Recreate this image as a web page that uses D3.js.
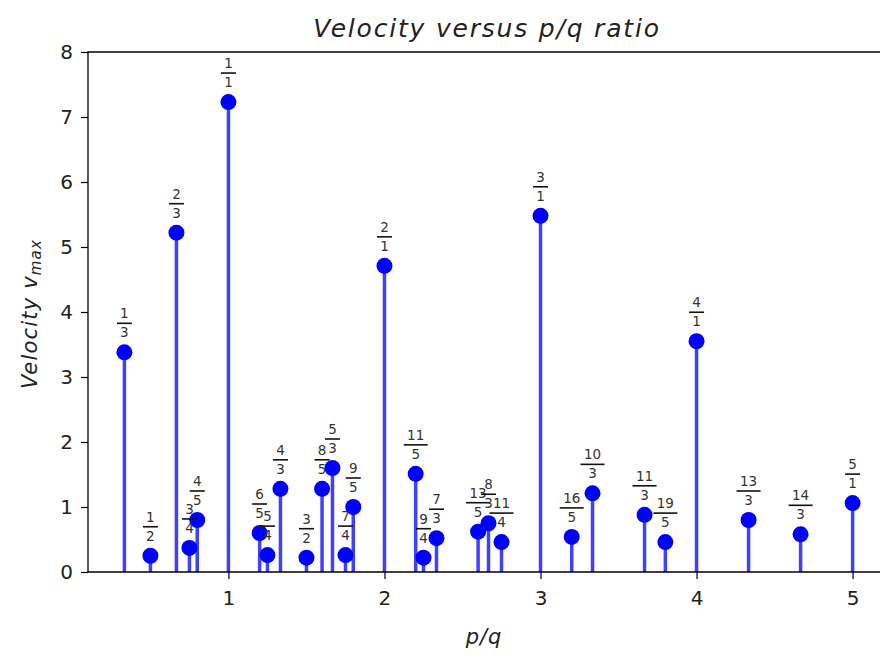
<!DOCTYPE html>
<html lang="en">
<head>
  <meta charset="UTF-8">
  <title>Velocity versus p/q ratio</title>
  <style>
    body, html {
      margin: 0;
      padding: 0;
      background: #fff;
    }
    svg text {
      font-family: "DejaVu Sans", sans-serif;
    }
  </style>
</head>
<body>
  <svg id="svg" width="880" height="656"></svg>
  <script src="https://d3js.org/d3.v7.min.js"></script>
  <script>
    // numerators, denominators and peak velocity for each ratio
    const numerators   = [1, 1, 2, 3, 4, 1, 6, 5, 4, 3, 8, 5, 7, 9, 2, 11, 9, 7, 13, 8, 11, 3, 16, 10, 11, 19, 4, 13, 14, 5]
    const denominators = [3, 2, 3, 4, 5, 1, 5, 4, 3, 2, 5, 3, 4, 5, 1, 5, 4, 3, 5, 3, 4, 1, 5, 3, 3, 5, 1, 3, 3, 1]
    const velocities   = [3.38, 0.25, 5.22, 0.37, 0.80, 7.23, 0.60, 0.26, 1.28, 0.22, 1.28, 1.60, 0.26, 1.00, 4.71,
                          1.51, 0.22, 0.52, 0.62, 0.75, 0.46, 5.48, 0.54, 1.21, 0.88, 0.46, 3.55, 0.80, 0.58, 1.06]
    const xTicks = [1, 2, 3, 4, 5]
    const yTicks = [0, 1, 2, 3, 4, 5, 6, 7, 8]

    const width = 880
    const height = 656
    const margin = {top: 52, left: 88, bottom: 84}

    const data = numerators.map((p, i) => ({
      p: p,
      q: denominators[i],
      ratio: p / denominators[i],
      v: velocities[i]
    }))

    const x = d3.scaleLinear()
      .domain([0.1, 5.2333])
      .range([margin.left, 889])

    const y = d3.scaleLinear()
      .domain([0, 8])
      .range([height - margin.bottom, margin.top])

    const svg = d3.select("#svg")

    // stems
    svg.append('g')
      .selectAll('line')
      .data(data)
      .enter()
      .append('line')
      .attr('x1', d => x(d.ratio))
      .attr('x2', d => x(d.ratio))
      .attr('y1', y(0))
      .attr('y2', d => y(d.v))
      .attr('stroke', '#4040ff')
      .attr('stroke-width', 3.5)

    // markers
    svg.append('g')
      .selectAll('circle')
      .data(data)
      .enter()
      .append('circle')
      .attr('cx', d => x(d.ratio))
      .attr('cy', d => y(d.v))
      .attr('r', 8)
      .attr('fill', '#0000ff')

    // fraction labels above each marker
    const frac = svg.append('g')
      .selectAll('g')
      .data(data)
      .enter()
      .append('g')
      .attr('transform', d => `translate(${x(d.ratio)}, ${y(d.v) - 29})`)

    frac.append('text')
      .attr('y', -5)
      .attr('text-anchor', 'middle')
      .attr('font-size', 13.5)
      .attr('fill', '#333')
      .text(d => d.p)

    frac.append('text')
      .attr('y', 14)
      .attr('text-anchor', 'middle')
      .attr('font-size', 13.5)
      .attr('fill', '#333')
      .text(d => d.q)

    frac.append('line')
      .attr('x1', d => -(String(Math.max(d.p, d.q)).length * 4.5 + 3))
      .attr('x2', d => String(Math.max(d.p, d.q)).length * 4.5 + 3)
      .attr('stroke', '#111')
      .attr('stroke-width', 1.6)

    // axes
    const xAxis = svg.append('g')
      .attr('transform', `translate(0, ${y(0)})`)
      .call(d3.axisBottom(x).tickValues(xTicks).tickFormat(d3.format('d')).tickSize(7).tickPadding(12))

    const yAxis = svg.append('g')
      .attr('transform', `translate(${margin.left}, 0)`)
      .call(d3.axisLeft(y).tickValues(yTicks).tickFormat(d3.format('d')).tickSize(7).tickPadding(8))

    ;[xAxis, yAxis].forEach(a => {
      a.select('.domain').remove()
      a.selectAll('line').attr('stroke', '#000').attr('stroke-width', 1.2)
      a.selectAll('text')
        .attr('font-size', 20)
        .attr('fill', '#222')
        .style('font-family', '"DejaVu Sans", sans-serif')
    })

    // frame (left, top, bottom; right edge is outside the picture)
    svg.append('path')
      .attr('d', `M${width},${margin.top}H${margin.left}V${y(0)}H${width}`)
      .attr('fill', 'none')
      .attr('stroke', '#000')
      .attr('stroke-width', 1.3)

    // title and axis labels
    svg.append('text')
      .attr('x', 487)
      .attr('y', 37)
      .attr('text-anchor', 'middle')
      .attr('font-size', 25)
      .attr('font-style', 'italic')
      .attr('letter-spacing', 1.8)
      .attr('fill', '#222')
      .text('Velocity versus p/q ratio')

    svg.append('text')
      .attr('x', 484)
      .attr('y', 644)
      .attr('text-anchor', 'middle')
      .attr('font-size', 21)
      .attr('font-style', 'italic')
      .attr('letter-spacing', 1)
      .attr('fill', '#222')
      .text('p/q')

    const ylab = svg.append('text')
      .attr('transform', 'translate(37, 314) rotate(-90)')
      .attr('text-anchor', 'middle')
      .attr('font-size', 21)
      .attr('font-style', 'italic')
      .attr('letter-spacing', 1.2)
      .attr('fill', '#222')

    ylab.append('tspan').text('Velocity v')
    ylab.append('tspan')
      .attr('font-size', 15)
      .attr('dy', 4)
      .text('max')
  </script>
</body>
</html>
